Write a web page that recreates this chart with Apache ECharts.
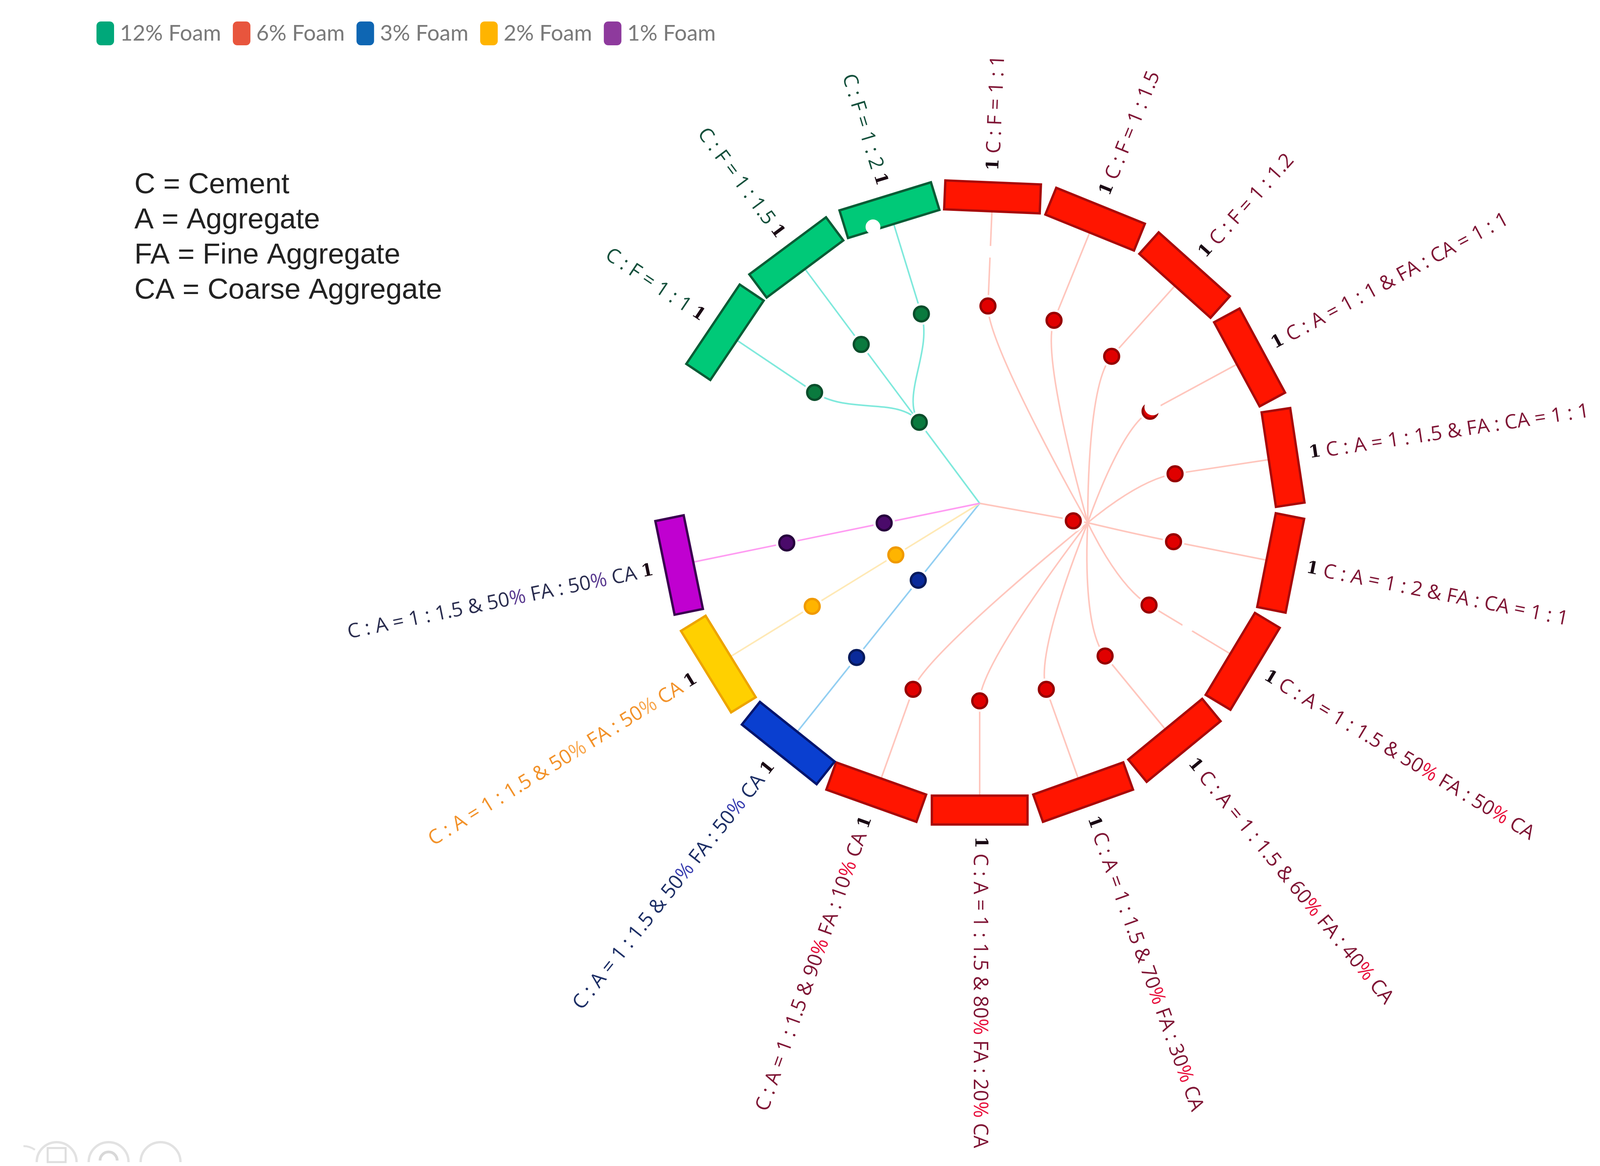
<!DOCTYPE html>
<html><head><meta charset="utf-8">
<style>html,body{margin:0;padding:0;background:#fff}#c{width:4114px;height:2986px}</style>
<script src="https://cdn.jsdelivr.net/npm/echarts@6/dist/echarts.min.js"></script>
</head><body><div id="c"></div>
<script>
// ---------- data ----------
const foamNames = ['12% Foam','6% Foam','3% Foam','2% Foam','1% Foam'];
const legendColors = ['#00a87a','#e8553d','#0e66b3','#ffb400','#8e3a9d'];
const mixes12 = ['C : F = 1 : 1','C : F = 1 : 1.5','C : F = 1 : 2'];
const angles12 = [303.9,323.3,342.9];
const leafR12 = [61.2,61.0,61.0];
const mixes6 = ['C : F = 1 : 1','C : F = 1 : 1.5','C : F = 1 : 1.2','C : A = 1 : 1 & FA : CA = 1 : 1','C : A = 1 : 1.5 & FA : CA = 1 : 1','C : A = 1 : 2 & FA : CA = 1 : 1','C : A = 1 : 1.5 & 50% FA : 50% CA','C : A = 1 : 1.5 & 60% FA : 40% CA','C : A = 1 : 1.5 & 70% FA : 30% CA','C : A = 1 : 1.5 & 80% FA : 20% CA','C : A = 1 : 1.5 & 90% FA : 10% CA'];
const angles6 = [2.4,22.1,41.9,61.6,81.4,101.2,121,140.6,160.3,180,199.7];
const leafR6 = [60.8,60.8,60.8,59.6,60.8,60.8,60.8,60.8,60.8,60.8,60.8];
const mixes3 = ['C : A = 1 : 1.5 & 50% FA : 50% CA'];
const angles3 = [218.6];
const leafR3 = [60.7];
const mixes2 = ['C : A = 1 : 1.5 & 50% FA : 50% CA'];
const angles2 = [238.4];
const leafR2 = [60.5];
const mixes1 = ['C : A = 1 : 1.5 & 50% FA : 50% CA'];
const angles1 = [258.4];
const leafR1 = [60.6];
const hubAngles = [323.3,100.2,218.6,238.4,258.4];
const hubRadii = [31.1,33.8,30.3,30.3,30.0];
const hubNodeAngles = [323.3,100.6,218.6,238.4,258.4];
const hubNodeRadii = [31.1,29.3,30.3,30.3,30.0];
const erasedMarks = [[2.4,77.5,15],[120.6,74.5,15],[60.9,60.9,21],[338.9,91.2,19]];
const noteLines = ['C = Cement','A = Aggregate','FA = Fine Aggregate','CA = Coarse Aggregate'];

// ---------- styles ----------
const R_LINK_END=90, R_IN=91.1, R_OUT=100, R_TEXT=102.5, HALF_W=8.86, CTRL_R=49;
const styles=[
 {bar:'#00c978',edge:'#0a5c36',line:'#7fe9dc',node:'#0a7a3e',nodeEdge:'#0a4d2b',text:'#14503c',pct:'#14503c'},
 {bar:'#ff1500',edge:'#a80a0a',line:'#ffc6bd',node:'#e00000',nodeEdge:'#960000',text:'#7f1535',pct:'#e8103c'},
 {bar:'#0a3fd0',edge:'#02156e',line:'#93cff2',node:'#0a2a9a',nodeEdge:'#061a5c',text:'#1d2f66',pct:'#3a3fb0'},
 {bar:'#ffd000',edge:'#eda400',line:'#ffe9b5',node:'#ffb400',nodeEdge:'#f09a00',text:'#f2922a',pct:'#f8a850'},
 {bar:'#c000d0',edge:'#3a0050',line:'#ff9cf2',node:'#4a0a6a',nodeEdge:'#26003c',text:'#2a2d4f',pct:'#5a3a90'}
];
const groups=[[mixes12,angles12,leafR12],[mixes6,angles6,leafR6],[mixes3,angles3,leafR3],[mixes2,angles2,leafR2],[mixes1,angles1,leafR1]];

function tagged(mix){ return mix.split('%').map(s=>`{t|${s}}`).join('{p|%}'); }

function makeRender(g){
 const st=styles[g];
 return function(params,api){
  const i=params.dataIndex, mix=groups[g][0][i];
  const a=api.value(1), leaf=api.value(0);
  const P=(r,t)=>api.coord([r,t]);
  const kids=[];
  const line=(p,q,c,w)=>({type:'line',shape:{x1:p[0],y1:p[1],x2:q[0],y2:q[1]},style:{stroke:c||st.line,lineWidth:w||4}});
  const node=(p)=>[
    {type:'circle',shape:{cx:p[0],cy:p[1],r:28},style:{fill:'#fff'}},
    {type:'circle',shape:{cx:p[0],cy:p[1],r:19},style:{fill:st.node,stroke:st.nodeEdge,lineWidth:6}}];
  const hub=P(hubRadii[g],hubAngles[g]);
  if(i===0){ kids.push(line(P(0,0),hub)); }
  // curved link from junction to leaf
  const p0=P(leaf,a), c1=P(CTRL_R,a);
  const c2=g===0?P(41,hubAngles[g]):hub;
  kids.push({type:'bezierCurve',shape:{x1:p0[0],y1:p0[1],cpx1:c1[0],cpy1:c1[1],cpx2:c2[0],cpy2:c2[1],x2:hub[0],y2:hub[1]},style:{stroke:st.line,lineWidth:4,fill:null}});
  kids.push(line(P(leaf,a),P(R_LINK_END,a)));
  if(i===groups[g][0].length-1){ kids.push(...node(P(hubNodeRadii[g],hubNodeAngles[g]))); }
  kids.push(...node(p0));
  // straight bar, tangent to the ring
  const mid=(R_IN+R_OUT)/2;
  const s=P(mid,a-HALF_W), e=P(mid,a+HALF_W), ri=P(R_IN,a), ro=P(R_OUT,a);
  const nx=(ro[0]-ri[0])/2, ny=(ro[1]-ri[1])/2;
  kids.push({type:'polygon',shape:{points:[[s[0]-nx,s[1]-ny],[e[0]-nx,e[1]-ny],[e[0]+nx,e[1]+ny],[s[0]+nx,s[1]+ny]]},
    style:{fill:st.bar,stroke:st.edge,lineWidth:6,lineJoin:'miter'}});
  // radial label
  const t=P(R_TEXT,a), right=a<=180;
  const rot=(right?90-a:270-a)*Math.PI/180;
  kids.push({type:'text',x:t[0],y:t[1],rotation:rot,style:{
    text:right?`{b|1}{t| }${tagged(mix)}`:`${tagged(mix)}{t| }{b|1}`,
    align:right?'left':'right',verticalAlign:'middle',
    rich:{b:{fontFamily:'DejaVu Serif',fontWeight:'bold',fontSize:44,fill:'#1a0a14'},
          t:{fontFamily:'Open Sans',fontSize:51,fill:st.text},
          p:{fontFamily:'Open Sans',fontSize:51,fill:st.pct}}}});
  return {type:'group',children:kids};
 };
}
const series=groups.map((G,g)=>({
 name:foamNames[g],type:'custom',coordinateSystem:'polar',silent:true,clip:false,
 encode:{radius:0,angle:1},
 itemStyle:{color:legendColors[g]},
 data:G[1].map((ang,i)=>[G[2][i],ang]),
 renderItem:makeRender(g),z:2+(g===1?0:1)
}));
series.push({name:'marks',type:'custom',coordinateSystem:'polar',silent:true,z:9,encode:{radius:0,angle:1},
 data:erasedMarks.map(m=>[m[1],m[0],m[2]]),
 renderItem:(p,api)=>{const c=api.coord([api.value(0),api.value(1)]);
   return {type:'circle',shape:{cx:c[0],cy:c[1],r:api.value(2)},style:{fill:'#fff'}};}});

const ghost=[145,278,411];
const graphics=[{type:'text',left:344,top:430,style:{text:noteLines.join('\n'),fontFamily:'Liberation Sans',fontSize:74,lineHeight:90,fill:'#222'}}];
ghost.forEach(x=>graphics.push({type:'arc',x:x,y:2976,shape:{r:51,startAngle:Math.PI,endAngle:2*Math.PI},style:{stroke:'#e2e2e2',lineWidth:6,fill:null}}));
graphics.push({type:'rect',x:122,y:2940,shape:{width:46,height:36},style:{stroke:'#dedede',lineWidth:5,fill:null}});
graphics.push({type:'arc',x:278,y:2972,shape:{r:22,startAngle:Math.PI,endAngle:2*Math.PI},style:{stroke:'#d8d8d8',lineWidth:7,fill:null}});
graphics.push({type:'arc',x:60,y:2985,shape:{r:50,startAngle:1.5*Math.PI,endAngle:1.7*Math.PI},style:{stroke:'#e2e2e2',lineWidth:5,fill:null}});

const chart=echarts.init(document.getElementById('c'),null,{renderer:'canvas',devicePixelRatio:1});
chart.setOption({
 animation:false,backgroundColor:'#fff',tooltip:{show:false},
 polar:{center:[2508,1289],radius:[0,832]},
 angleAxis:{type:'value',min:0,max:360,startAngle:90,show:false},
 radiusAxis:{type:'value',min:0,max:100,show:false},
 legend:{left:242,top:50,orient:'horizontal',itemWidth:45,itemHeight:61,itemGap:30,icon:'roundRect',selectedMode:false,
   textStyle:{fontFamily:'Lato',fontSize:56,color:'#7a7a7a',padding:[0,0,0,10]},
   data:foamNames.map((n,i)=>({name:n,itemStyle:{color:legendColors[i]}}))},
 graphic:graphics,
 series:series
});
</script></body></html>
